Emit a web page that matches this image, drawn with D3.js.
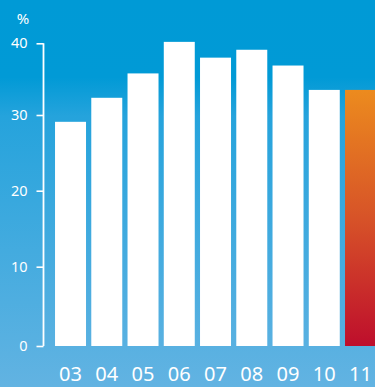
<!DOCTYPE html>
<html>
<head>
<meta charset="utf-8">
<script src="https://cdn.jsdelivr.net/npm/d3@7/dist/d3.min.js"></script>
<style>
  html, body { margin: 0; padding: 0; background: #009ad6; }
  svg { display: block; }
  text { font-family: "Noto Sans", "Open Sans", sans-serif; fill: #fff; }
</style>
</head>
<body>
<svg id="chart" width="375" height="387"></svg>
<script>
// Share by year, in percent
const years = ["03", "04", "05", "06", "07", "08", "09", "10", "11"];
const values = [29.1, 32.4, 35.8, 40.2, 38.0, 39.1, 36.9, 33.5, 33.5];
const tickValues = [0, 10, 20, 30, 40];
const highlightYear = "11";
const unitLabel = "%";

const W = 375, H = 387;
const svg = d3.select("#chart");
const defs = svg.append("defs");

// Background: deep blue fading to lighter blue toward the bottom
const bg = defs.append("linearGradient").attr("id", "bg")
  .attr("x1", 0).attr("y1", 0).attr("x2", 0).attr("y2", 1);
bg.append("stop").attr("offset", "0%").attr("stop-color", "#009ad6");
bg.append("stop").attr("offset", "20%").attr("stop-color", "#019ad6");
bg.append("stop").attr("offset", "30%").attr("stop-color", "#25a3dc");
bg.append("stop").attr("offset", "100%").attr("stop-color", "#62b3e2");
svg.append("rect").attr("width", W).attr("height", H).attr("fill", "url(#bg)");

// Highlight bar: orange to red
const hl = defs.append("linearGradient").attr("id", "hl")
  .attr("x1", 0).attr("y1", 0).attr("x2", 0).attr("y2", 1);
hl.append("stop").attr("offset", "0%").attr("stop-color", "#ec8b1e");
hl.append("stop").attr("offset", "50%").attr("stop-color", "#d75328");
hl.append("stop").attr("offset", "100%").attr("stop-color", "#be0e2c");

// Scales
const x = d3.scaleBand().domain(years)
  .range([52.4, 378.65])
  .paddingInner(0.145).paddingOuter(0.0725);
const y = d3.scaleLinear()
  .domain(tickValues)
  .range([346, 266.7, 190.7, 115, 43.3]);

// Bars
svg.append("g").selectAll("rect")
  .data(years.map((yr, i) => ({ yr, v: values[i] })))
  .join("rect")
  .attr("x", d => x(d.yr))
  .attr("y", d => y(d.v))
  .attr("width", x.bandwidth())
  .attr("height", d => y(0) - y(d.v))
  .attr("fill", d => d.yr === highlightYear ? "url(#hl)" : "#ffffff");

// Y axis: bracket-style line with outward ticks
const axisX = 43.5;
const yAxis = d3.axisLeft(y).tickValues(tickValues).tickSize(7).tickPadding(9)
  .tickFormat(d3.format("d"));
const gy = svg.append("g").attr("transform", `translate(${axisX},0)`).call(yAxis);
gy.select(".domain").remove();
gy.append("line").attr("x1", 0).attr("x2", 0)
  .attr("y1", y(40)).attr("y2", y(0))
  .attr("stroke", "#fff").attr("stroke-width", 1.8);
gy.selectAll(".tick line").attr("stroke", "#fff").attr("stroke-width", 1.6);
gy.selectAll(".tick text")
  .attr("fill", "#fff").attr("font-size", 14.5)
  .style("font-family", "'Noto Sans', sans-serif");

// Unit label
svg.append("text").attr("x", 23).attr("y", 23.5)
  .attr("text-anchor", "middle").attr("font-size", 15).text(unitLabel);

// X axis labels
const xAxis = d3.axisBottom(x).tickSize(0).tickPadding(0);
const gx = svg.append("g").attr("transform", "translate(0,367)").call(xAxis);
gx.select(".domain").remove();
gx.selectAll(".tick text")
  .attr("fill", "#fff").attr("font-size", 20)
  .attr("dy", "0.71em")
  .style("font-family", "'Noto Sans', sans-serif");
</script>
</body>
</html>
